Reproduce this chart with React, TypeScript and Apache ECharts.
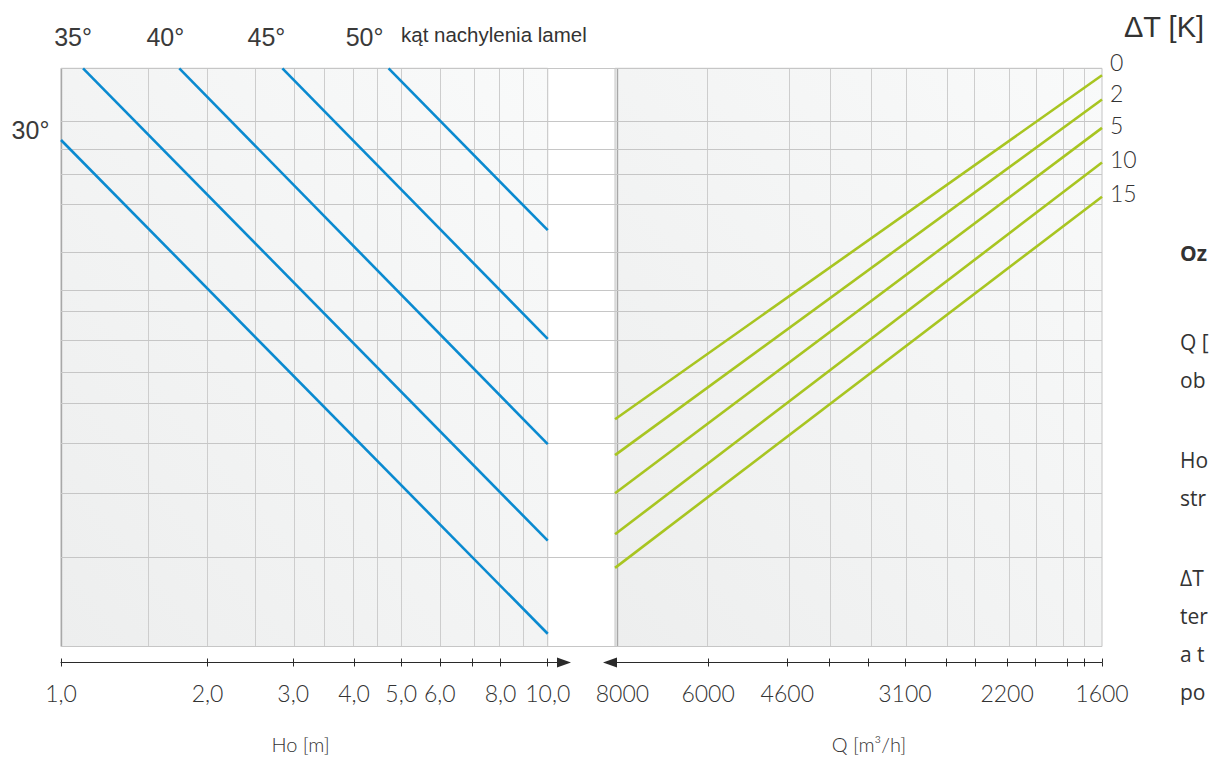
import React, { useEffect, useRef } from "react";
import * as echarts from "echarts";

// ---------- Left panel: Ho [m] (logarithmic) ----------
const hoTickValues = [1, 2, 3, 4, 5, 6, 7, 8, 10];
const hoLabelValues = [1, 2, 3, 4, 5, 6, 8, 10];
const hoGridValues = [1.5, 2, 2.5, 3, 3.5, 4, 4.5, 5, 6, 7, 8, 9];
const hoPanelRange = [1, 10];
const hoAxisEnd = 10.8;

// ---------- Right panel: Q [m3/h] (logarithmic, reversed) ----------
const qLabelValues = [8000, 6000, 4600, 3100, 2200, 1600];
const qTickValues = [6000, 4600, 4000, 3500, 3100, 2700, 2450, 2200, 2000, 1800, 1700, 1600];
const qGridValues = [6000, 4600, 4000, 3500, 3100, 2700, 2450, 2200, 2000, 1800, 1700];
const qPanelRange = [8200, 1600];
const qAxisEnd = 8340;

// ---------- Common (unlabelled) nomogram ordinate, 0 = bottom, 100 = top ----------
const nomoGridValues = [15.5, 26.5, 35.2, 42.1, 47.4, 53.0, 57.9, 61.7, 68.1, 76.5, 81.7, 86.0, 90.9];
const nomoRange = [0, 100];

// ---------- Blue lines: louvre angle (kąt nachylenia lamel) ----------
const angleNames = ["30°", "35°", "40°", "45°", "50°"];
const angleStartHo = [1.0, 1.11, 1.75, 2.85, 4.71];
const angleStartY = [87.6, 100, 100, 100, 100];
const angleEndHo = [10, 10, 10, 10, 10];
const angleEndY = [2.2, 18.3, 35.0, 53.2, 72.0];

// ---------- Green lines: ΔT [K] ----------
const dtNames = ["0", "2", "5", "10", "15"];
const dtStartQ = [8200, 8200, 8200, 8200, 8200];
const dtStartY = [39.3, 33.1, 26.5, 19.4, 13.6];
const dtEndQ = [1600, 1600, 1600, 1600, 1600];
const dtEndY = [98.8, 94.6, 89.7, 83.7, 77.8];

// ---------- Side description (only these fragments are visible in the original) ----------
const noteLines = ["Oz", "Q [", "ob", "Ho", "str", "ΔT", "ter", "a t", "po"];
const noteBold = [true, false, false, false, false, false, false, false, false];

// ---------- styles ----------
const BLUE = "#0a8ad0";
const GREEN = "#a8c521";
const GRID_H = "#c6c6c6";
const GRID_V = "#cdcdcd";
const BORDER_DARK = "#a8a8a8";
const TEXT = "#333333";
const AXIS = "#2a2a2a";
const angleLabelOffset = [
  [-30.5, -9.5],
  [-10, -31],
  [-14, -31],
  [-16, -31],
  [-24, -31],
];
const dtLabelDy = [-13.3, -6.8, -2.7, -3.7, -3.2];
const noteY = [253, 342, 380, 460, 498, 578, 616, 654, 692];

const TOP = 68.3;
const HEIGHT = 578.2;

const L = (v: number) => Math.log10(v);

function panelBackground() {
  return new echarts.graphic.LinearGradient(0, 1, 1, 0, [
    { offset: 0, color: "#edeeee" },
    { offset: 1, color: "#f9fafa" },
  ]);
}

function buildOption() {
  const axisLabelStyle = {
    fontFamily: "Lato",
    fontWeight: 300,
    fontSize: 23,
    color: TEXT,
    margin: 19,
  };
  const nameStyle = {
    fontFamily: "Lato",
    fontWeight: 300,
    fontSize: 20,
    lineHeight: 20,
    color: TEXT,
  };

  const tickStyle = { color: AXIS, width: 1 };

  const xAxis: any[] = [
    { gridIndex: 0, type: "value", min: 0, max: 1, show: false },
    {
      gridIndex: 1,
      type: "value",
      min: 0,
      max: L(hoAxisEnd),
      position: "bottom",
      offset: 16,
      axisLine: {
        show: true,
        onZero: false,
        lineStyle: { color: AXIS, width: 1.2 },
        symbol: ["none", "triangle"],
        symbolSize: [10, 14],
      },
      axisTick: {
        show: true,
        customValues: hoTickValues.map(L),
        length: 4,
        inside: false,
        lineStyle: tickStyle,
      },
      axisLabel: {
        show: true,
        customValues: hoLabelValues.map(L),
        formatter: (v: number) => Math.pow(10, v).toFixed(1).replace(".", ","),
        ...axisLabelStyle,
      },
      splitLine: { show: false },
      name: "Ho [m]",
      nameLocation: "middle",
      nameGap: 71,
      nameTextStyle: { ...nameStyle, padding: [0, 24, 0, 0] },
    },
    {
      gridIndex: 1,
      type: "value",
      min: 0,
      max: L(hoAxisEnd),
      position: "bottom",
      offset: 16,
      axisLine: { show: false, onZero: false },
      axisTick: {
        show: true,
        customValues: hoTickValues.map(L),
        length: 4,
        inside: true,
        lineStyle: tickStyle,
      },
      axisLabel: { show: false },
      splitLine: { show: false },
    },
    {
      gridIndex: 2,
      type: "value",
      min: L(qPanelRange[1]),
      max: L(qAxisEnd),
      inverse: true,
      position: "bottom",
      offset: 16,
      axisLine: {
        show: true,
        onZero: false,
        lineStyle: { color: AXIS, width: 1.2 },
        symbol: ["triangle", "none"],
        symbolSize: [10, 14],
      },
      axisTick: {
        show: true,
        customValues: qTickValues.map(L),
        length: 4,
        inside: false,
        lineStyle: tickStyle,
      },
      axisLabel: {
        show: true,
        customValues: qLabelValues.map(L),
        formatter: (v: number) => String(Math.round(Math.pow(10, v))),
        ...axisLabelStyle,
      },
      splitLine: { show: false },
      name: "Q [m³/h]",
      nameLocation: "middle",
      nameGap: 71,
      nameTextStyle: { ...nameStyle, padding: [0, 0, 0, 26] },
    },
    {
      gridIndex: 2,
      type: "value",
      min: L(qPanelRange[1]),
      max: L(qAxisEnd),
      inverse: true,
      position: "bottom",
      offset: 16,
      axisLine: { show: false, onZero: false },
      axisTick: {
        show: true,
        customValues: qTickValues.map(L),
        length: 4,
        inside: true,
        lineStyle: tickStyle,
      },
      axisLabel: { show: false },
      splitLine: { show: false },
    },
  ];

  const yAxis = [0, 1, 2].map((i) => ({
    gridIndex: i,
    type: "value",
    min: nomoRange[0],
    max: nomoRange[1],
    show: false,
  }));

  const lineMarkBase = {
    silent: true,
    symbol: ["none", "none"],
    label: { show: false },
    emphasis: { disabled: true },
  };

  const series: any[] = [
    // left panel background + vertical grid
    {
      type: "line",
      xAxisIndex: 1,
      yAxisIndex: 1,
      data: [[L(hoPanelRange[0]), nomoRange[0]]],
      showSymbol: false,
      silent: true,
      lineStyle: { opacity: 0 },
      markArea: {
        silent: true,
        itemStyle: { color: panelBackground(), borderColor: "#c4c4c4", borderWidth: 1 },
        data: [
          [
            { coord: [L(hoPanelRange[0]), nomoRange[0]] },
            { coord: [L(hoPanelRange[1]), nomoRange[1]] },
          ],
        ],
      },
      markLine: {
        ...lineMarkBase,
        lineStyle: { color: GRID_V, width: 1, type: "solid" },
        data: [
          ...hoGridValues.map((v) => ({ xAxis: L(v) })),
          { xAxis: L(hoPanelRange[1]) },
          { xAxis: L(hoPanelRange[0]), lineStyle: { color: BORDER_DARK, width: 1.4, type: "solid" } },
        ],
      },
    },
    // right panel background + vertical grid
    {
      type: "line",
      xAxisIndex: 3,
      yAxisIndex: 2,
      data: [[L(qPanelRange[0]), nomoRange[0]]],
      showSymbol: false,
      silent: true,
      lineStyle: { opacity: 0 },
      markArea: {
        silent: true,
        itemStyle: { color: panelBackground(), borderColor: "#c4c4c4", borderWidth: 1 },
        data: [
          [
            { coord: [L(qPanelRange[0]), nomoRange[0]] },
            { coord: [L(qPanelRange[1]), nomoRange[1]] },
          ],
        ],
      },
      markLine: {
        ...lineMarkBase,
        lineStyle: { color: GRID_V, width: 1, type: "solid" },
        data: [
          ...qGridValues.map((v) => ({ xAxis: L(v) })),
          { xAxis: L(qPanelRange[1]) },
          { xAxis: L(qPanelRange[0]), lineStyle: { color: BORDER_DARK, width: 1.4, type: "solid" } },
        ],
      },
    },
    // horizontal grid running across both panels
    {
      type: "line",
      xAxisIndex: 0,
      yAxisIndex: 0,
      data: [[0, 0]],
      showSymbol: false,
      silent: true,
      lineStyle: { opacity: 0 },
      markLine: {
        ...lineMarkBase,
        lineStyle: { color: GRID_H, width: 1.2, type: "solid" },
        data: [...nomoRange, ...nomoGridValues].map((v) => ({ yAxis: v })),
      },
    },
  ];

  angleNames.forEach((name, i) => {
    const start = [L(angleStartHo[i]), angleStartY[i]];
    series.push({
      name,
      type: "line",
      xAxisIndex: 1,
      yAxisIndex: 1,
      z: 10,
      silent: true,
      symbol: "none",
      data: [start, [L(angleEndHo[i]), angleEndY[i]]],
      lineStyle: { color: BLUE, width: 2.6 },
      markPoint: {
        silent: true,
        symbol: "circle",
        symbolSize: 0,
        data: [
          {
            coord: start,
            label: {
              show: true,
              position: "inside",
              formatter: name,
              offset: angleLabelOffset[i],
              fontFamily: "Liberation Sans",
              fontSize: 25,
              color: "#3a3a3a",
            },
          },
        ],
      },
    });
  });

  dtNames.forEach((name, i) => {
    const end = [L(dtEndQ[i]), dtEndY[i]];
    series.push({
      name: "ΔT " + name,
      type: "line",
      xAxisIndex: 3,
      yAxisIndex: 2,
      z: 10,
      silent: true,
      symbol: "none",
      data: [[L(dtStartQ[i]), dtStartY[i]], end],
      lineStyle: { color: GREEN, width: 2.6 },
      markPoint: {
        silent: true,
        symbol: "circle",
        symbolSize: 0,
        data: [
          {
            coord: end,
            label: {
              show: true,
              position: "right",
              distance: 8,
              formatter: name,
              offset: [0, dtLabelDy[i]],
              fontFamily: "Lato",
              fontWeight: 300,
              fontSize: 23,
              color: TEXT,
            },
          },
        ],
      },
    });
  });

  const graphic: any[] = [
    {
      type: "text",
      x: 401,
      y: 34.6,
      silent: true,
      style: {
        text: "kąt nachylenia lamel",
        fontFamily: "Liberation Sans",
        fontSize: 20.5,
        fill: TEXT,
        align: "left",
        verticalAlign: "middle",
      },
    },
    {
      type: "text",
      x: 1124,
      y: 27,
      silent: true,
      style: {
        text: "ΔT [K]",
        fontFamily: "Liberation Sans",
        fontSize: 29,
        fill: TEXT,
        align: "left",
        verticalAlign: "middle",
      },
    },
    ...noteLines.map((t, i) => ({
      type: "text",
      x: 1180,
      y: noteY[i],
      silent: true,
      style: {
        text: t,
        fontFamily: "Open Sans",
        fontWeight: noteBold[i] ? "bold" : "normal",
        fontSize: 21,
        fill: TEXT,
        align: "left",
        verticalAlign: "middle",
      },
    })),
  ];

  return {
    animation: false,
    backgroundColor: "#ffffff",
    textStyle: { fontFamily: "Lato" },
    grid: [
      { left: 61, top: TOP, width: 1041, height: HEIGHT, outerBoundsMode: "none" },
      { left: 61, top: TOP, width: 503, height: HEIGHT, outerBoundsMode: "none" },
      { left: 610, top: TOP, width: 492, height: HEIGHT, outerBoundsMode: "none" },
    ],
    xAxis,
    yAxis,
    series,
    graphic,
  };
}

export default function App() {
  const ref = useRef<HTMLDivElement>(null);
  useEffect(() => {
    if (!ref.current) return;
    const chart = echarts.init(ref.current, undefined, { renderer: "svg" });
    chart.setOption(buildOption() as any);
    return () => chart.dispose();
  }, []);
  return (
    <div
      ref={ref}
      style={{ position: "absolute", left: 0, top: 0, width: 1209, height: 758 }}
    />
  );
}
